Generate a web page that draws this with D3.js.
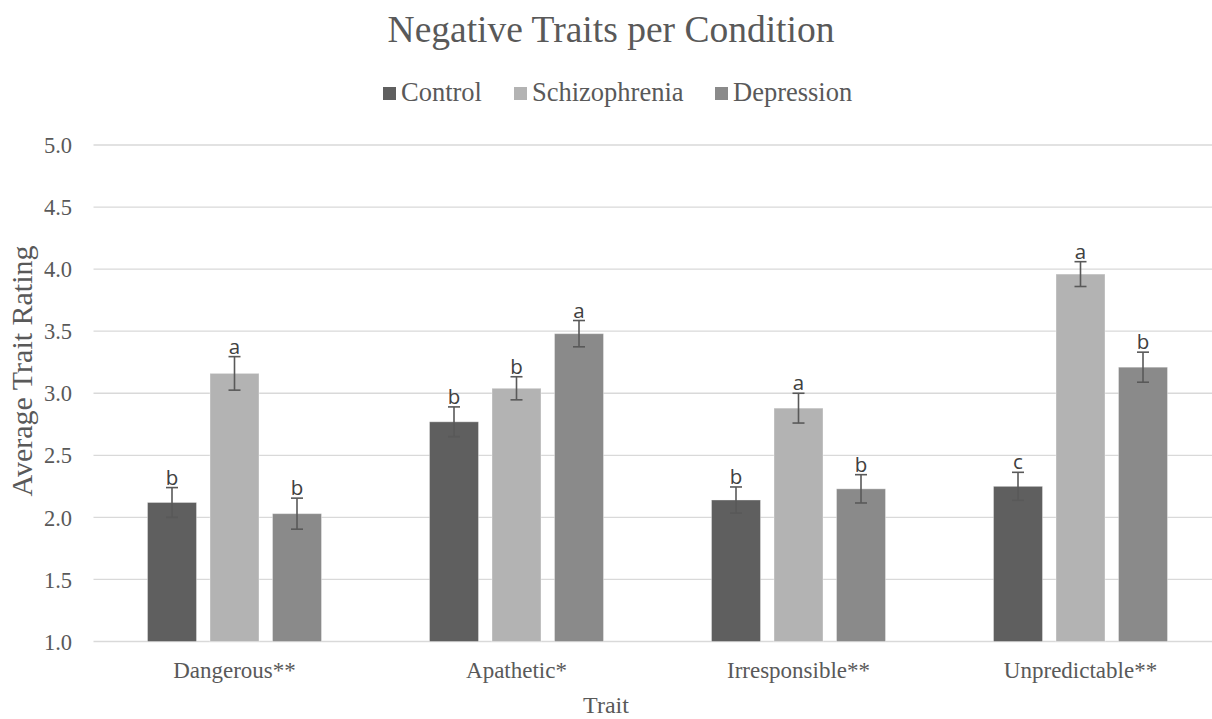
<!DOCTYPE html>
<html>
<head>
<meta charset="utf-8">
<script src="https://cdn.jsdelivr.net/npm/d3@7"></script>
<style>
  html, body { margin: 0; padding: 0; background: #fff; }
  svg { display: block; }
</style>
</head>
<body>
<svg id="chart" width="1212" height="719"></svg>
<script>
const categories = ["Dangerous**", "Apathetic*", "Irresponsible**", "Unpredictable**"];
const seriesNames = ["Control", "Schizophrenia", "Depression"];
const controlValues = [2.12, 2.77, 2.14, 2.25];
const schizophreniaValues = [3.16, 3.04, 2.88, 3.96];
const depressionValues = [2.03, 3.48, 2.23, 3.21];
const controlErrors = [0.12, 0.12, 0.105, 0.113];
const schizophreniaErrors = [0.135, 0.093, 0.12, 0.10];
const depressionErrors = [0.125, 0.106, 0.114, 0.121];
const controlLetters = ["b", "b", "b", "c"];
const schizophreniaLetters = ["a", "b", "a", "a"];
const depressionLetters = ["b", "a", "b", "b"];
const yTicks = [1.0, 1.5, 2.0, 2.5, 3.0, 3.5, 4.0, 4.5, 5.0];
const colors = ["#5f5f5f", "#b3b3b3", "#8a8a8a"];

(function () {
const values = [controlValues, schizophreniaValues, depressionValues];
const errors = [controlErrors, schizophreniaErrors, depressionErrors];
const letters = [controlLetters, schizophreniaLetters, depressionLetters];

const svg = d3.select("#chart");
const W = 1212;
const mLeft = 93.5, mRight = 1221.5, mTop = 145, mBottom = 641.5;
const textColor = "#595959";
const serif = "'Liberation Serif', 'Times New Roman', serif";

const x0 = d3.scaleBand().domain(categories).range([mLeft, mRight]).paddingInner(0).paddingOuter(0);
const x1 = d3.scaleBand().domain(seriesNames).range([0, x0.bandwidth()]).paddingInner(0.216).paddingOuter(0.864);
const y = d3.scaleLinear().domain([1, 5]).range([mBottom, mTop]);

// gridlines
svg.append("g").selectAll("line").data(yTicks).join("line")
  .attr("x1", mLeft).attr("x2", W)
  .attr("y1", d => y(d)).attr("y2", d => y(d))
  .attr("stroke", "#d9d9d9").attr("stroke-width", 1.3);

// y axis labels
const yAxis = d3.axisLeft(y).tickValues(yTicks).tickFormat(d3.format(".1f")).tickSize(0).tickPadding(0);
const yg = svg.append("g").attr("transform", `translate(72,0)`).call(yAxis);
yg.select(".domain").remove();
yg.selectAll("text").attr("font-family", serif).attr("font-size", 22.5).attr("fill", textColor).attr("dy", "0.34em");

// x axis labels
const xAxis = d3.axisBottom(x0).tickSize(0).tickPadding(0);
const xg = svg.append("g").attr("transform", `translate(0,${mBottom})`).call(xAxis);
xg.select(".domain").remove();
xg.selectAll("text").attr("font-family", serif).attr("font-size", 23).attr("fill", textColor)
  .attr("y", 0).attr("dy", 0).attr("transform", "translate(0,36.5)");

// bars
const flat = [];
categories.forEach((c, i) => {
  seriesNames.forEach((s, j) => {
    flat.push({cat: c, ser: s, si: j, v: values[j][i], e: errors[j][i], l: letters[j][i]});
  });
});

svg.append("g").selectAll("rect").data(flat).join("rect")
  .attr("x", d => x0(d.cat) + x1(d.ser))
  .attr("y", d => y(d.v))
  .attr("width", x1.bandwidth())
  .attr("height", d => y(1) - y(d.v))
  .attr("fill", d => colors[d.si])
  .attr("stroke", "#ffffff").attr("stroke-opacity", 0.35).attr("stroke-width", 1);

// error bars
const errG = svg.append("g").attr("stroke", "#595959").attr("stroke-width", 1.6);
const cx = d => x0(d.cat) + x1(d.ser) + x1.bandwidth() / 2;
errG.selectAll("line.v").data(flat).join("line").attr("class", "v")
  .attr("x1", cx).attr("x2", cx)
  .attr("y1", d => y(d.v + d.e)).attr("y2", d => y(d.v - d.e));
errG.selectAll("line.t").data(flat).join("line").attr("class", "t")
  .attr("x1", d => cx(d) - 6).attr("x2", d => cx(d) + 6)
  .attr("y1", d => y(d.v + d.e)).attr("y2", d => y(d.v + d.e));
errG.selectAll("line.b").data(flat).join("line").attr("class", "b")
  .attr("x1", d => cx(d) - 6).attr("x2", d => cx(d) + 6)
  .attr("y1", d => y(d.v - d.e)).attr("y2", d => y(d.v - d.e));

// letters
svg.append("g").selectAll("text").data(flat).join("text")
  .attr("x", cx).attr("y", d => y(d.v + d.e) - 3)
  .attr("text-anchor", "middle")
  .attr("font-family", "'Open Sans', sans-serif").attr("font-size", 20.5)
  .attr("fill", "#404040")
  .text(d => d.l);

// title
svg.append("text").attr("x", 611).attr("y", 42).attr("text-anchor", "middle")
  .attr("font-family", serif).attr("font-size", 37.5).attr("fill", textColor)
  .text("Negative Traits per Condition");

// legend
const legendX = [383, 514, 715];
const lg = svg.append("g");
seriesNames.forEach((s, j) => {
  lg.append("rect").attr("x", legendX[j]).attr("y", 87).attr("width", 13).attr("height", 13).attr("fill", colors[j]);
  lg.append("text").attr("x", legendX[j] + 18).attr("y", 100.5)
    .attr("font-family", serif).attr("font-size", 26.5).attr("fill", textColor).text(s);
});

// axis titles
svg.append("text").attr("x", 606).attr("y", 713).attr("text-anchor", "middle")
  .attr("font-family", serif).attr("font-size", 24).attr("fill", textColor).text("Trait");
svg.append("text").attr("transform", `translate(32,371) rotate(-90)`)
  .attr("text-anchor", "middle")
  .attr("font-family", serif).attr("font-size", 30).attr("fill", textColor).text("Average Trait Rating");
})();
</script>
</body>
</html>
